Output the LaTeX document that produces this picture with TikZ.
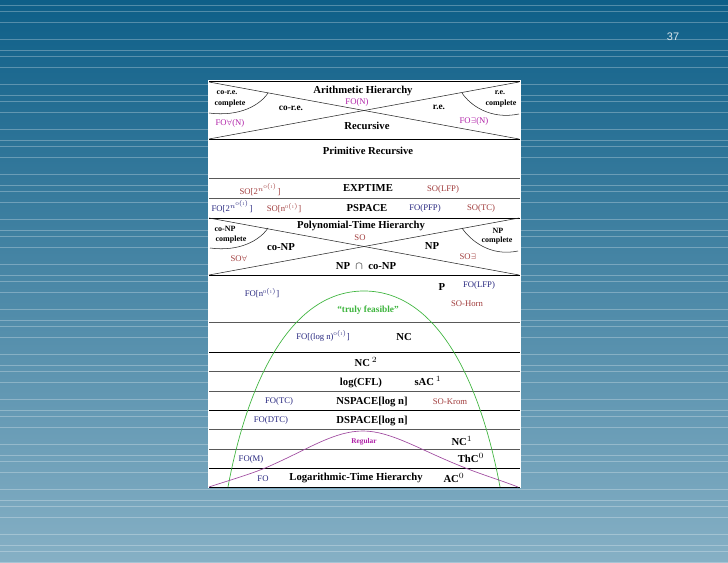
\documentclass[tikz,border=0pt]{standalone}
\usepackage{fontspec}
\setmainfont{Liberation Serif}
\newfontfamily\pagefont{Liberation Sans}
\definecolor{slidetop}{HTML}{0E5F88}
\definecolor{slidebottom}{HTML}{86B0C5}
\definecolor{sored}{HTML}{A03A3A}
\definecolor{foblue}{HTML}{26267F}
\definecolor{regmag}{HTML}{B020A8}
\definecolor{regline}{HTML}{A04AA0}
\definecolor{feasgreen}{HTML}{3CB43C}
\newcommand{\oone}{$^{\scriptscriptstyle\mathrm{O(1)}}$}
\newcommand{\ntower}{$^{\scriptscriptstyle n^{\mathrm{O(1)}}}$}
\tikzset{
    bold/.style={font=\fontsize{8}{9}\selectfont\bfseries, inner sep=0pt},
    tiny/.style={font=\fontsize{6}{7}\selectfont\bfseries, inner sep=0pt},
    sorule/.style={font=\fontsize{6.5}{8}\selectfont, text=sored, inner sep=0pt},
    forule/.style={font=\fontsize{6.5}{8}\selectfont, text=foblue, inner sep=0pt},
    fomag/.style={font=\fontsize{6.5}{8}\selectfont, text=regmag, inner sep=0pt},
    thinrow/.style={draw=black!65, line width=0.35pt},
    thickrow/.style={draw=black, line width=0.7pt},
    hier/.style={draw=black!85, line width=0.4pt},
}
\begin{document}
\begin{tikzpicture}[x=0.75pt, y=-0.75pt]
    \useasboundingbox (0, 0) rectangle (728, 563);

    % Slide background
    \shade[top color=slidetop, bottom color=slidebottom] (0, 0) rectangle (728, 563);
    \begin{scope}
        \clip (0, 0) rectangle (728, 563);
        \foreach \k in {0,...,12}
            \foreach \y in {5.5, 11.5, 22.5, 39.5}
                \draw[white, opacity=0.28, line width=0.75pt] (0, \y+45*\k) -- (728, \y+45*\k);
    \end{scope}
    \node[text=white!85!slidetop, font=\pagefont\fontsize{8.2}{10}\selectfont, inner sep=0pt] (pagenum) at (673, 37) {37};

    % Panel and rows
    \fill[white] (208, 80) rectangle (521, 488);
    \foreach \y in {178, 198, 322, 371, 391, 429, 449}
        \draw[thinrow] (209, \y) -- (520, \y);
    \foreach \y in {81, 139, 218, 275, 352, 410, 468, 487}
        \draw[thickrow] (209, \y) -- (520, \y);

    % Arithmetic hierarchy
    \draw[hier] (209, 82) -- (519, 139);
    \draw[hier] (209, 139) -- (519, 82);
    \draw[hier] (209, 113) .. controls (240, 117) and (260, 105) .. (268, 93);
    \draw[hier] (462, 93) .. controls (470, 105) and (490, 120) .. (519, 114);
    \node[tiny] (cored) at (227, 93) {co-r.e.};
    \node[tiny] (coredc) at (230, 104) {complete};
    \node[tiny] (red) at (500, 93) {r.e.};
    \node[tiny] (redc) at (501, 104) {complete};
    \node[bold] (arith) at (363, 91) {Arithmetic Hierarchy};
    \node[fomag] (fon) at (357, 102) {FO(N)};
    \node[bold, font=\fontsize{7}{8}\selectfont\bfseries] (corelabel) at (291, 108) {co-r.e.};
    \node[bold, font=\fontsize{7}{8}\selectfont\bfseries] (relabel) at (439, 107) {r.e.};
    \node[fomag] (foall) at (230, 123) {FO$\forall$(N)};
    \node[fomag] (foex) at (474, 121) {FO$\exists$(N)};
    \node[bold] (recursive) at (367, 126) {Recursive};
    \node[bold] (primrec) at (368, 151) {Primitive Recursive};

    % Exptime and pspace
    \node[sorule] (soexp) at (260, 190) {SO[2\ntower]};
    \node[bold] (exptime) at (368, 188) {EXPTIME};
    \node[sorule] (solfp) at (443, 189) {SO(LFP)};
    \node[forule] (fotwo) at (232, 207) {FO[2\ntower]};
    \node[sorule] (sopoly) at (284, 208) {SO[n\oone]};
    \node[bold] (pspace) at (367, 208) {PSPACE};
    \node[forule] (fopfp) at (425, 208) {FO(PFP)};
    \node[sorule] (sotc) at (481, 208) {SO(TC)};

    % Polynomial-time hierarchy
    \draw[hier] (209, 218) -- (519, 275);
    \draw[hier] (209, 275) -- (519, 218);
    \draw[hier] (210, 248) .. controls (240, 252) and (260, 240) .. (268, 228);
    \draw[hier] (462, 228) .. controls (470, 240) and (490, 257) .. (518, 251);
    \node[tiny] (conp) at (225, 229) {co-NP};
    \node[tiny] (conpc) at (231, 240) {complete};
    \node[tiny] (np) at (498, 231) {NP};
    \node[tiny] (npc) at (497, 241) {complete};
    \node[bold] (poly) at (361, 226) {Polynomial-Time Hierarchy};
    \node[sorule] (so) at (360, 238) {SO};
    \node[bold] (conplabel) at (281, 247) {co-NP};
    \node[bold] (nplabel) at (432, 246) {NP};
    \node[sorule] (soall) at (239, 259) {SO$\forall$};
    \node[sorule] (soex) at (468, 257) {SO$\exists$};
    \node[bold] (npcap) at (366, 266) {NP\ \ $\cap$\ \ co-NP};

    % Feasible region
    \draw[feasgreen, line width=0.5pt] (228, 487) .. controls (245, 395) and (285, 291) .. (364, 291)
        .. controls (443, 291) and (483, 395) .. (500, 487);
    \draw[regline, line width=0.5pt] (209, 487) .. controls (230, 480) and (255, 473) .. (272, 465)
        .. controls (310, 448) and (335, 431) .. (363, 431)
        .. controls (391, 431) and (420, 450) .. (463, 467)
        .. controls (480, 474) and (500, 480) .. (518, 487);

    % P and below
    \node[forule] (fopoly) at (262, 293) {FO[n\oone]};
    \node[bold] (p) at (442, 287) {P};
    \node[forule] (folfp) at (479, 285) {FO(LFP)};
    \node[sorule] (sohorn) at (467, 304) {SO-Horn};
    \node[bold, font=\fontsize{7}{8}\selectfont\bfseries, text=feasgreen] (truly) at (368, 310) {``truly feasible''};
    \node[forule] (fologs) at (323, 336) {FO[(log n)\oone]};
    \node[bold] (nc) at (404, 337) {NC};
    \node[bold] (nctwo) at (366, 362) {NC$^{\,2}$};
    \node[bold] (logcfl) at (361, 383) {log(CFL)};
    \node[bold] (sacone) at (428, 381) {sAC$^{\,1}$};
    \node[forule] (fotc) at (279, 401) {FO(TC)};
    \node[bold] (nspace) at (372, 402) {NSPACE[log n]};
    \node[sorule] (sokrom) at (450, 402) {SO-Krom};
    \node[forule] (fodtc) at (271, 420) {FO(DTC)};
    \node[bold] (dspace) at (372, 421) {DSPACE[log n]};
    \node[fomag, font=\fontsize{5.5}{7}\selectfont\bfseries] (regular) at (364, 442) {Regular};
    \node[bold] (ncone) at (462, 441) {NC$^{1}$};
    \node[forule] (fom) at (251, 459) {FO(M)};
    \node[bold] (thc) at (471, 458) {ThC$^{0}$};
    \node[forule] (fo) at (263, 479) {FO};
    \node[bold] (logtime) at (356, 478) {Logarithmic-Time Hierarchy};
    \node[bold] (aczero) at (454, 478) {AC$^{0}$};
\end{tikzpicture}
\end{document}
